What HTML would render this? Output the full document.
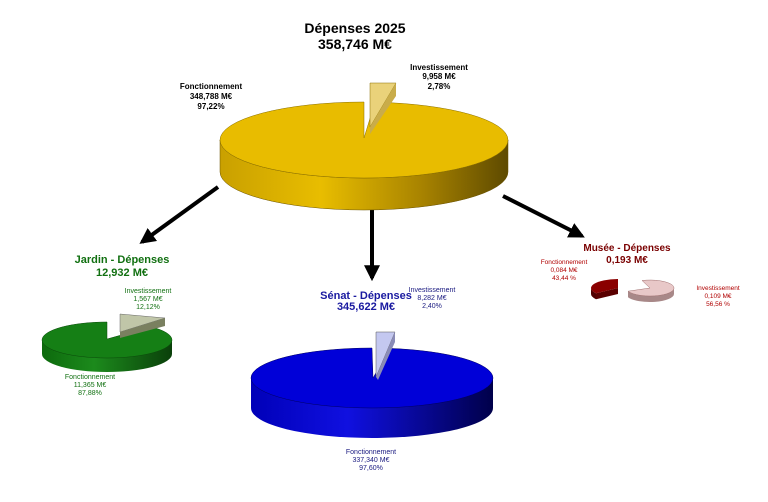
<!DOCTYPE html>
<html><head><meta charset="utf-8"><style>
body{margin:0;background:#fff}
svg{display:block;font-family:"Liberation Sans",Arial,sans-serif}
</style></head><body>
<svg width="768" height="502" viewBox="0 0 768 502">
<defs>
<linearGradient id="gy" x1="0" x2="1"><stop offset="0" stop-color="#c9a000"/><stop offset="0.35" stop-color="#e8bd00"/><stop offset="0.7" stop-color="#a88300"/><stop offset="1" stop-color="#5e4a00"/></linearGradient>
<linearGradient id="gg" x1="0" x2="1"><stop offset="0" stop-color="#0d6a0d"/><stop offset="0.4" stop-color="#1c8a1c"/><stop offset="1" stop-color="#0a400a"/></linearGradient>
<linearGradient id="gb" x1="0" x2="1"><stop offset="0" stop-color="#0000b8"/><stop offset="0.4" stop-color="#1010e0"/><stop offset="1" stop-color="#00004a"/></linearGradient>
<marker id="ah" viewBox="0 0 10 10" refX="8" refY="5" markerWidth="4" markerHeight="4" orient="auto"><path d="M0,0L10,5L0,10z" fill="#000"/></marker>
</defs>
<g stroke="#000" stroke-width="4" marker-end="url(#ah)">
<line x1="218" y1="187" x2="142" y2="242"/>
<line x1="372" y1="210" x2="372" y2="278"/>
<line x1="503" y1="196" x2="582" y2="236"/>
</g>
<!-- main pie -->
<text x="355" y="33" font-size="14" font-weight="bold" text-anchor="middle">Dépenses 2025</text>
<text x="355" y="49" font-size="14" font-weight="bold" text-anchor="middle">358,746 M€</text>
<g font-size="8" font-weight="bold" text-anchor="middle">
<text x="211" y="89">Fonctionnement</text><text x="211" y="99">348,788 M€</text><text x="211" y="109">97,22%</text>
<text x="439" y="70">Investissement</text><text x="439" y="79">9,958 M€</text><text x="439" y="89">2,78%</text>
</g>
<path d="M220,140 L220,172 A144,38 0 0 0 508,172 L508,140 A144,38 0 0 1 220,140z" fill="url(#gy)" stroke="#6a5200" stroke-width="0.5"/>
<path d="M364,138 L375,102.2 A144,38 0 0 1 508,140 A144,38 0 0 1 220,140 A144,38 0 0 1 364,102 Z" fill="#e8bc00" stroke="#8a6f00" stroke-width="0.5"/>
<path d="M370,127 L370,83 L396,83 z" fill="#ead27a" stroke="#8a6f00" stroke-width="0.5"/>
<path d="M370,127 L396,83 L396,96 L370,134z" fill="#c9ac4a"/>
<!-- Jardin -->
<text x="122" y="263" font-size="11" font-weight="bold" fill="#117011" text-anchor="middle">Jardin - Dépenses</text>
<text x="122" y="276" font-size="11" font-weight="bold" fill="#117011" text-anchor="middle">12,932 M€</text>
<g font-size="7" fill="#117011" text-anchor="middle">
<text x="148" y="293">Investissement</text><text x="148" y="301">1,567 M€</text><text x="148" y="309">12,12%</text>
<text x="90" y="379">Fonctionnement</text><text x="90" y="387">11,365 M€</text><text x="90" y="395">87,88%</text>
</g>
<path d="M42,340 L42,354 A65,18 0 0 0 172,354 L172,340z" fill="url(#gg)"/>
<path d="M107,339 L151,326.8 A65,18 0 0 1 172,340 A65,18 0 0 1 42,340 A65,18 0 0 1 107,322 Z" fill="#157f15" stroke="#0a4a0a" stroke-width="0.5"/>
<path d="M120,332 L120,314 L165,318 z" fill="#c0c6a8" stroke="#666" stroke-width="0.5"/>
<path d="M120,332 L165,318 L165,326 L120,338z" fill="#7a8060"/>
<!-- Senat -->
<text x="366" y="299" font-size="11" font-weight="bold" fill="#1a1aa0" text-anchor="middle">Sénat - Dépenses</text>
<text x="366" y="310" font-size="11" font-weight="bold" fill="#1a1aa0" text-anchor="middle">345,622 M€</text>
<g font-size="7" fill="#1a1a80" text-anchor="middle">
<text x="432" y="292">Investissement</text><text x="432" y="300">8,282 M€</text><text x="432" y="308">2,40%</text>
<text x="371" y="454">Fonctionnement</text><text x="371" y="462">337,340 M€</text><text x="371" y="470">97,60%</text>
</g>
<path d="M251,378 L251,408 A121,30 0 0 0 493,408 L493,378z" fill="url(#gb)"/>
<path d="M373,378 L390,348.4 A121,30 0 0 1 493,378 A121,30 0 0 1 251,378 A121,30 0 0 1 372,348 Z" fill="#0000d8" stroke="#000060" stroke-width="0.5"/>
<path d="M376,377 L376,332 L395,332 z" fill="#c4c8f0" stroke="#555" stroke-width="0.5"/>
<path d="M376,377 L395,332 L395,342 L378,380z" fill="#8a8cb8"/>
<!-- Musee -->
<text x="627" y="251" font-size="10" font-weight="bold" fill="#7a0000" text-anchor="middle">Musée - Dépenses</text>
<text x="627" y="263" font-size="10" font-weight="bold" fill="#7a0000" text-anchor="middle">0,193 M€</text>
<g font-size="6.5" fill="#b00000" text-anchor="middle">
<text x="564" y="264">Fonctionnement</text><text x="564" y="272">0,084 M€</text><text x="564" y="280">43,44 %</text>
<text x="718" y="290">Investissement</text><text x="718" y="298">0,109 M€</text><text x="718" y="306">56,56 %</text>
</g>
<path d="M591,288 L591,294 A27,9 0 0 0 596,299.2 L596,293.2 A27,9 0 0 1 591,288 Z" fill="#500000"/>
<path d="M618,288 L596,293.2 L596,299.2 L618,294 Z" fill="#5a0000"/>
<path d="M618,288 L618,279 A27,9 0 0 0 596,293.2 Z" fill="#8a0000"/>
<path d="M628,291.2 L628,297.2 A24,8 0 0 0 674,294 L674,288 A24,8 0 0 1 628,291.2 Z" fill="#a88888"/>
<path d="M650,288 L642,280.5 A24,8 0 1 1 628,291.2 Z" fill="#e8c8c8" stroke="#a07070" stroke-width="0.5"/>
</svg>
</body></html>
